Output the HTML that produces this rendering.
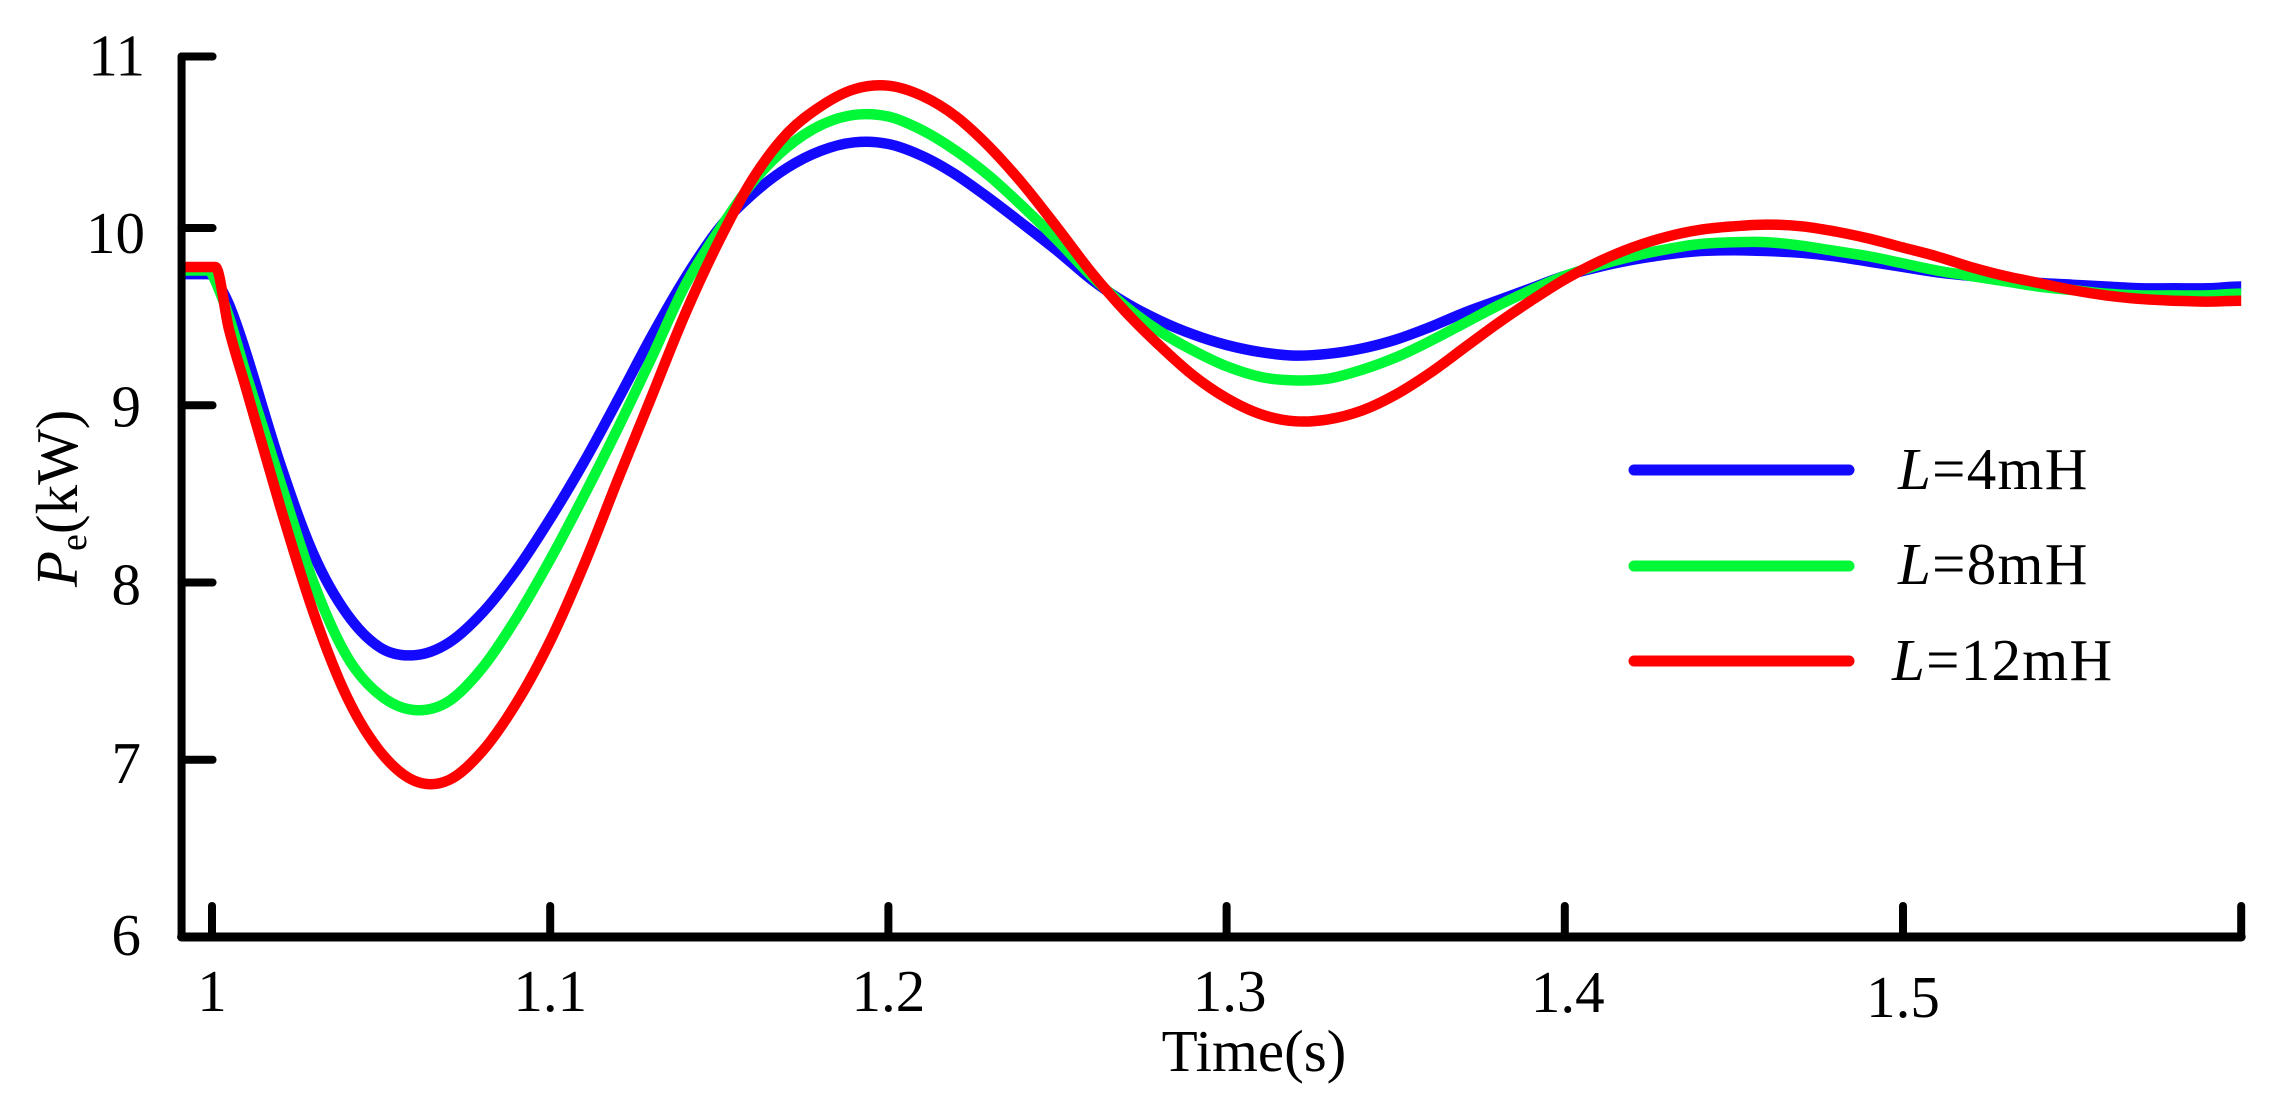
<!DOCTYPE html>
<html lang="en">
<head>
<meta charset="utf-8">
<title>Pe response versus time</title>
<style>
html,body{margin:0;padding:0;background:#fff;}
svg{display:block;}
text{font-family:"Liberation Serif",serif;font-size:59px;fill:#000;}
.legend-text{letter-spacing:1.3px;}
</style>
</head>
<body>
<svg id="chart" xmlns="http://www.w3.org/2000/svg" width="2288" height="1105" viewBox="0 0 2288 1105">
  <rect width="2288" height="1105" fill="#fff"/>
  <g id="series-layer" fill="none" stroke-width="10.5" stroke-linejoin="round"></g>
  <g id="axis-layer" stroke="#000" stroke-width="8" stroke-linecap="round"></g>
  <g id="label-layer"></g>
  <text x="1254" y="1071" text-anchor="middle">Time(s)</text>
  <text transform="translate(77 587) rotate(-90)"><tspan font-style="italic">P</tspan><tspan font-size="38" dy="9">e</tspan><tspan dy="-9">(kW)</tspan></text>
  <g>
    <g>
      <line x1="1634" y1="470" x2="1849" y2="470" stroke="#1409ff" stroke-width="11" stroke-linecap="round"/>
      <text class="legend-text" x="1898" y="489"><tspan font-style="italic">L</tspan>=4mH</text>
    </g>
    <g>
      <line x1="1634" y1="566" x2="1849" y2="566" stroke="#00f837" stroke-width="11" stroke-linecap="round"/>
      <text class="legend-text" x="1898" y="584"><tspan font-style="italic">L</tspan>=8mH</text>
    </g>
    <g>
      <line x1="1634" y1="661" x2="1849" y2="661" stroke="#ff0000" stroke-width="11" stroke-linecap="round"/>
      <text class="legend-text" x="1892" y="680"><tspan font-style="italic">L</tspan>=12mH</text>
    </g>
  </g>
</svg>
<script>
const times = [0.991,0.995,0.999,1.001,1.005,1.01,1.02,1.03,1.04,1.05,1.06,1.07,1.08,1.09,1.10,1.11,1.12,1.13,1.14,1.15,1.16,1.17,1.18,1.19,1.20,1.21,1.22,1.23,1.24,1.25,1.26,1.27,1.28,1.29,1.30,1.31,1.32,1.33,1.34,1.35,1.36,1.37,1.38,1.39,1.40,1.41,1.42,1.43,1.44,1.45,1.46,1.47,1.48,1.49,1.50,1.51,1.52,1.53,1.54,1.55,1.56,1.57,1.58,1.59,1.60];
const blueValues = [9.74,9.74,9.74,9.71,9.57,9.30,8.68,8.16,7.82,7.63,7.59,7.66,7.83,8.07,8.36,8.68,9.03,9.39,9.72,10.00,10.20,10.35,10.45,10.50,10.49,10.42,10.31,10.17,10.02,9.87,9.71,9.58,9.48,9.40,9.34,9.30,9.28,9.29,9.32,9.37,9.44,9.52,9.59,9.66,9.73,9.78,9.82,9.85,9.87,9.875,9.87,9.86,9.84,9.81,9.78,9.75,9.73,9.71,9.69,9.68,9.67,9.66,9.66,9.66,9.67];
const greenValues = [9.76,9.76,9.76,9.70,9.50,9.18,8.58,8.00,7.58,7.36,7.28,7.33,7.52,7.80,8.13,8.49,8.87,9.27,9.68,9.99,10.27,10.47,10.60,10.66,10.65,10.57,10.45,10.30,10.12,9.93,9.73,9.56,9.42,9.31,9.22,9.16,9.14,9.15,9.20,9.27,9.36,9.46,9.56,9.65,9.73,9.79,9.84,9.88,9.91,9.92,9.92,9.90,9.87,9.84,9.80,9.76,9.73,9.70,9.67,9.65,9.63,9.62,9.62,9.62,9.63];
const redValues = [9.78,9.78,9.78,9.78,9.43,9.10,8.44,7.83,7.35,7.04,6.88,6.885,7.05,7.32,7.67,8.10,8.58,9.05,9.52,9.93,10.29,10.55,10.71,10.81,10.83,10.77,10.65,10.47,10.25,10.00,9.75,9.53,9.34,9.17,9.04,8.95,8.91,8.92,8.97,9.06,9.18,9.32,9.46,9.59,9.71,9.81,9.89,9.95,9.99,10.01,10.02,10.01,9.98,9.94,9.89,9.84,9.78,9.73,9.69,9.65,9.62,9.60,9.59,9.585,9.59];
const xTicks = [1,1.1,1.2,1.3,1.4,1.5,1.6];
const xTickLabels = ["1","1.1","1.2","1.3","1.4","1.5",""];
const yTicks = [6,7,8,9,10,11];
const yTickLabels = ["6","7","8","9","10","11"];

const SVG_NS = "http://www.w3.org/2000/svg";
function xScale(t){ return 212 + (t - 1) * 3382; }
function yScale(v){ return v <= 10 ? 937 - (v - 6) * 177.25 : 228 - (v - 10) * 171.5; }

function smoothPath(xs, ys){
  const p = xs.map((t, i) => [xScale(t), yScale(ys[i])]);
  const n = p.length;
  const slope = p.map((pt, i) => {
    if (i === 0 || i === n - 1) return 0;
    if (xs[i] <= 1.002 && (ys[i] === ys[i - 1] || ys[i] === ys[i + 1])) return 0;
    return (p[i + 1][1] - p[i - 1][1]) / (p[i + 1][0] - p[i - 1][0]);
  });
  let d = "M" + p[0][0].toFixed(1) + " " + p[0][1].toFixed(1);
  for (let i = 0; i < n - 1; i++) {
    const h = (p[i + 1][0] - p[i][0]) / 3;
    d += "C" + (p[i][0] + h).toFixed(1) + " " + (p[i][1] + slope[i] * h).toFixed(1) + " " +
         (p[i + 1][0] - h).toFixed(1) + " " + (p[i + 1][1] - slope[i + 1] * h).toFixed(1) + " " +
         p[i + 1][0].toFixed(1) + " " + p[i + 1][1].toFixed(1);
  }
  return d;
}

function yLabelBaseline(tick){
  const nudge = tick === 11 ? 19 : tick === 10 ? 25 : tick === 9 ? 21 : tick === 8 ? 22 : tick === 7 ? 23 : 18;
  return yScale(tick) + nudge;
}
function xLabelBaseline(tick){
  return tick === 1.5 ? 1017 : (tick === 1.4 ? 1012 : 1011);
}
function xLabelCenter(tick){
  return xScale(tick) + (tick === 1.3 || tick === 1.4 ? 3 : 0);
}

const seriesLayer = document.getElementById("series-layer");
const axisLayer = document.getElementById("axis-layer");
const labelLayer = document.getElementById("label-layer");

const blueLine = document.createElementNS(SVG_NS, "path");
blueLine.setAttribute("d", smoothPath(times, blueValues));
blueLine.setAttribute("stroke", "#1409ff");


seriesLayer.appendChild(blueLine);

const greenLine = document.createElementNS(SVG_NS, "path");
greenLine.setAttribute("d", smoothPath(times, greenValues));
greenLine.setAttribute("stroke", "#00f837");


seriesLayer.appendChild(greenLine);

const redLine = document.createElementNS(SVG_NS, "path");
redLine.setAttribute("d", smoothPath(times, redValues));
redLine.setAttribute("stroke", "#ff0000");


seriesLayer.appendChild(redLine);

const axisLeft = xScale(0.991);
const yAxisLine = document.createElementNS(SVG_NS, "line");
yAxisLine.setAttribute("x1", axisLeft);
yAxisLine.setAttribute("x2", axisLeft);
yAxisLine.setAttribute("y1", yScale(11));
yAxisLine.setAttribute("y2", yScale(6));


axisLayer.appendChild(yAxisLine);

const xAxisLine = document.createElementNS(SVG_NS, "line");
xAxisLine.setAttribute("x1", axisLeft);
xAxisLine.setAttribute("x2", xScale(1.6));
xAxisLine.setAttribute("y1", yScale(6));
xAxisLine.setAttribute("y2", yScale(6));
xAxisLine.setAttribute("stroke-width", "9");


axisLayer.appendChild(xAxisLine);

xTicks.forEach((tick, i) => {
  const mark = document.createElementNS(SVG_NS, "line");
  mark.setAttribute("x1", xScale(tick));
  mark.setAttribute("x2", xScale(tick));
  mark.setAttribute("y1", yScale(6));
  mark.setAttribute("y2", yScale(6) - 31);
  
  
  axisLayer.appendChild(mark);
  if (xTickLabels[i]) {
    const label = document.createElementNS(SVG_NS, "text");
    label.setAttribute("x", xLabelCenter(tick));
    label.setAttribute("y", xLabelBaseline(tick));
    label.setAttribute("text-anchor", "middle");
    label.textContent = xTickLabels[i];
    
    
    labelLayer.appendChild(label);
  }
});

yTicks.forEach((tick, i) => {
  const mark = document.createElementNS(SVG_NS, "line");
  mark.setAttribute("x1", axisLeft);
  mark.setAttribute("x2", axisLeft + 31);
  mark.setAttribute("y1", yScale(tick));
  mark.setAttribute("y2", yScale(tick));
  
  
  axisLayer.appendChild(mark);
  const label = document.createElementNS(SVG_NS, "text");
  label.setAttribute("x", tick >= 10 ? 145 : 141);
  label.setAttribute("y", yLabelBaseline(tick));
  label.setAttribute("text-anchor", "end");
  label.textContent = yTickLabels[i];
  
  
  labelLayer.appendChild(label);
});
</script>
</body>
</html>
